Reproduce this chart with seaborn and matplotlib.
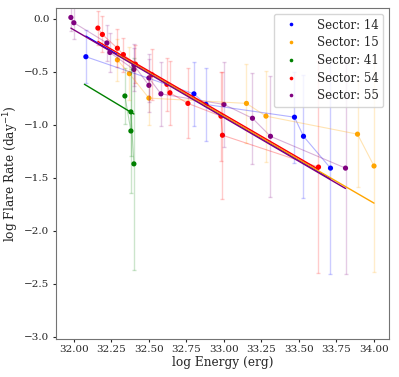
import numpy as np
import pandas as pd
import seaborn as sns
import matplotlib.pyplot as plt

sectors = ["14", "15", "41", "54", "55"]
colors = ["blue", "orange", "green", "red", "purple"]

# log energy, log flare rate and errors per sector
x14 = [32.08, 32.80, 32.88, 33.47, 33.53, 33.71]
y14 = [-0.36, -0.71, -0.81, -0.93, -1.11, -1.41]
e14 = [0.25, 0.30, 0.34, 0.43, 0.58, 1.00]

x15 = [32.29, 32.37, 32.50, 33.15, 33.28, 33.89, 34.00]
y15 = [-0.39, -0.52, -0.75, -0.80, -0.92, -1.09, -1.39]
e15 = [0.20, 0.25, 0.25, 0.37, 0.43, 0.50, 1.00]

x41 = [32.34, 32.38, 32.38, 32.40]
y41 = [-0.73, -0.88, -1.06, -1.37]
e41 = [0.26, 0.42, 0.58, 1.00]

x54 = [32.16, 32.19, 32.29, 32.33, 32.41, 32.52, 32.62, 32.64, 32.76, 32.98, 32.99, 33.63]
y54 = [-0.09, -0.15, -0.28, -0.34, -0.43, -0.53, -0.62, -0.70, -0.80, -0.92, -1.10, -1.40]
e54 = [0.16, 0.17, 0.18, 0.16, 0.18, 0.24, 0.25, 0.30, 0.33, 0.42, 0.60, 1.00]

x55 = [31.98, 32.00, 32.22, 32.24, 32.40, 32.40, 32.50, 32.50, 32.58, 33.00, 33.19, 33.31, 33.81]
y55 = [0.01, -0.04, -0.23, -0.32, -0.44, -0.48, -0.56, -0.63, -0.71, -0.81, -0.94, -1.11, -1.41]
e55 = [0.13, 0.15, 0.17, 0.18, 0.20, 0.20, 0.23, 0.25, 0.30, 0.40, 0.43, 0.57, 1.00]

# power-law fits: y = b + m * (x - 32), drawn from x0 to x1
fit_m = [-0.825, -0.82, -0.85, -0.82, -0.826]
fit_b = [-0.10, -0.10, -0.56, -0.085, -0.107]
fit_x0 = [32.08, 32.29, 32.07, 32.16, 31.98]
fit_x1 = [33.71, 34.00, 32.40, 33.63, 33.81]

xs = [x14, x15, x41, x54, x55]
ys = [y14, y15, y41, y54, y55]
es = [e14, e15, e41, e54, e55]

rows = []
for s, x, y, e in zip(sectors, xs, ys, es):
    for xi, yi, ei in zip(x, y, e):
        rows.append({"Sector": "Sector: " + s, "E": xi, "R": yi, "err": ei})
df = pd.DataFrame(rows)
labels = ["Sector: " + s for s in sectors]
pal = dict(zip(labels, colors))

sns.set_style("ticks")
plt.rcParams["font.family"] = ["DejaVu Serif"]

fig = plt.figure(figsize=(3.99, 3.77), dpi=100)
ax = fig.add_axes([0.140, 0.101, 0.835, 0.878])

for lab, c in zip(labels, colors):
    d = df[df["Sector"] == lab]
    ax.errorbar(d["E"], d["R"], yerr=d["err"], fmt="none", ecolor=c,
                alpha=0.2, elinewidth=1, capsize=1.5)

sns.lineplot(data=df, x="E", y="R", hue="Sector", palette=pal, estimator=None,
             sort=True, alpha=0.3, lw=0.8, legend=False, ax=ax)
sns.scatterplot(data=df, x="E", y="R", hue="Sector", palette=pal, s=14,
                edgecolor="none", ax=ax)

for m, b, a0, a1, c in zip(fit_m, fit_b, fit_x0, fit_x1, colors):
    fx = np.array([a0, a1])
    ax.plot(fx, b + m * (fx - 32), color=c, lw=1)

ax.set_xlim(31.88, 34.1)
ax.set_ylim(-3.02, 0.1)
ax.set_xticks(np.arange(32, 34.01, 0.25))
ax.set_yticks(np.arange(-3, 0.01, 0.5))
ax.set_xlabel("log Energy (erg)", fontsize=8.7, labelpad=1)
ax.set_ylabel("log Flare Rate (day$^{-1}$)", fontsize=8.7, labelpad=2.7)
ax.tick_params(labelsize=7.5, length=2.5, pad=2)
for sp in ax.spines.values():
    sp.set_color("0.45")
ax.legend(loc="upper right", fontsize=8.5, markerscale=0.7, handletextpad=1.2,
          labelspacing=0.4, borderaxespad=0.5)

fig.savefig("out.png", dpi=100)
